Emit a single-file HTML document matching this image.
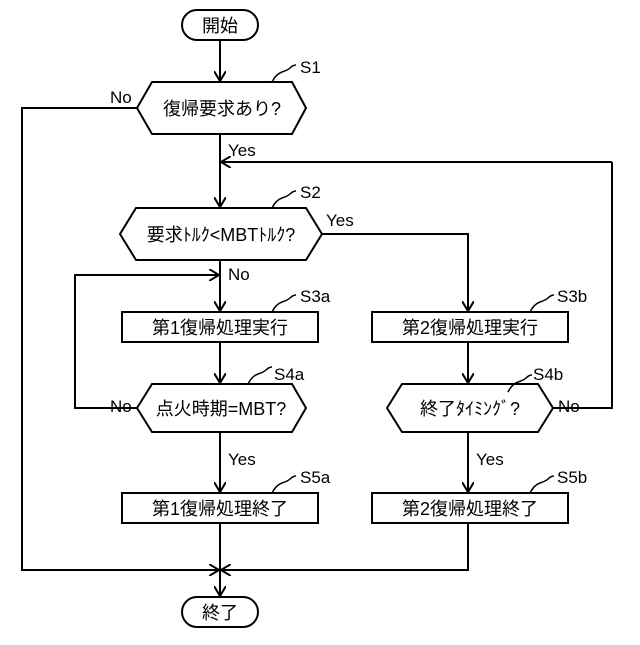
<!DOCTYPE html>
<html><head><meta charset="utf-8"><style>body{margin:0;background:#fff}</style></head><body>
<svg width="640" height="640" viewBox="0 0 640 640" xmlns="http://www.w3.org/2000/svg" font-family="'Liberation Sans','Noto Sans CJK JP',sans-serif" font-size="18" fill="none" stroke="#000" stroke-width="2">
<defs><marker id="a" markerWidth="12" markerHeight="12" refX="10" refY="6" orient="auto" markerUnits="userSpaceOnUse"><path d="M0,0 L10,6 L0,12" fill="none" stroke="#000" stroke-width="2"/></marker></defs>
<!-- shapes -->
<rect x="182" y="10" width="76" height="30" rx="15"/>
<rect x="182" y="597" width="76" height="30" rx="15"/>
<polygon points="137,108 152,82 292,82 306,108 292,134 152,134"/>
<polygon points="120,234 136,208 306,208 322,234 306,260 136,260"/>
<rect x="122" y="312" width="196" height="30"/>
<rect x="372" y="312" width="196" height="30"/>
<polygon points="137,408 152,384 292,384 306,408 292,432 152,432"/>
<polygon points="387,408 402,384 538,384 553,408 538,432 402,432"/>
<rect x="122" y="493" width="196" height="30"/>
<rect x="372" y="493" width="196" height="30"/>
<!-- lines -->
<line x1="220" y1="40" x2="220" y2="81" marker-end="url(#a)"/>
<line x1="220" y1="134" x2="220" y2="207" marker-end="url(#a)"/>
<line x1="612" y1="162" x2="221" y2="162" marker-end="url(#a)"/>
<polyline points="612,162 612,408 553,408"/>
<polyline points="137,108 22,108 22,570 219,570" marker-end="url(#a)"/>
<polyline points="468,523 468,570 221,570" marker-end="url(#a)"/>
<line x1="220" y1="523" x2="220" y2="596" marker-end="url(#a)"/>
<line x1="220" y1="260" x2="220" y2="311" marker-end="url(#a)"/>
<polyline points="137,408 75,408 75,275 219,275" marker-end="url(#a)"/>
<line x1="220" y1="342" x2="220" y2="383" marker-end="url(#a)"/>
<line x1="220" y1="432" x2="220" y2="492" marker-end="url(#a)"/>
<polyline points="322,234 468,234 468,311" marker-end="url(#a)"/>
<line x1="468" y1="342" x2="468" y2="383" marker-end="url(#a)"/>
<line x1="468" y1="432" x2="468" y2="492" marker-end="url(#a)"/>
<!-- squiggles -->
<g stroke-width="1.5">
<path d="M272,82 q4,-8 10,-10 q6,-2 8,-4 q3,-3 6,-3"/>
<path d="M272,208 q4,-8 10,-10 q6,-2 8,-4 q3,-3 6,-3"/>
<path d="M272,312 q4,-8 10,-10 q6,-2 8,-4 q3,-3 6,-3"/>
<path d="M530,312 q4,-8 10,-10 q6,-2 8,-4 q3,-3 6,-3"/>
<path d="M248,384 q4,-8 10,-10 q6,-2 8,-4 q3,-3 6,-3"/>
<path d="M508,392 q4,-8 10,-10 q6,-2 8,-4 q3,-3 6,-3"/>
<path d="M272,493 q4,-8 10,-10 q6,-2 8,-4 q3,-3 6,-3"/>
<path d="M530,493 q4,-8 10,-10 q6,-2 8,-4 q3,-3 6,-3"/>
</g>
<!-- text -->
<g fill="#000" stroke="none" text-anchor="middle">
<text x="220" y="32">開始</text>
<text x="220" y="619">終了</text>
<text x="222" y="115">復帰要求あり?</text>
<text x="221" y="241">要求ﾄﾙｸ&lt;MBTﾄﾙｸ?</text>
<text x="220" y="334">第1復帰処理実行</text>
<text x="470" y="334">第2復帰処理実行</text>
<text x="221" y="415">点火時期=MBT?</text>
<text x="470" y="415">終了ﾀｲﾐﾝｸﾞ?</text>
<text x="220" y="515">第1復帰処理終了</text>
<text x="470" y="515">第2復帰処理終了</text>
</g>
<g fill="#000" stroke="none" font-size="17">
<text x="300" y="73">S1</text>
<text x="300" y="198">S2</text>
<text x="300" y="302">S3a</text>
<text x="557" y="302">S3b</text>
<text x="274" y="380">S4a</text>
<text x="533" y="380">S4b</text>
<text x="300" y="483">S5a</text>
<text x="557" y="483">S5b</text>
<text x="110" y="103">No</text>
<text x="228" y="156">Yes</text>
<text x="326" y="226">Yes</text>
<text x="228" y="280">No</text>
<text x="110" y="412">No</text>
<text x="558" y="412">No</text>
<text x="228" y="465">Yes</text>
<text x="476" y="465">Yes</text>
</g>
</svg>
</body></html>
